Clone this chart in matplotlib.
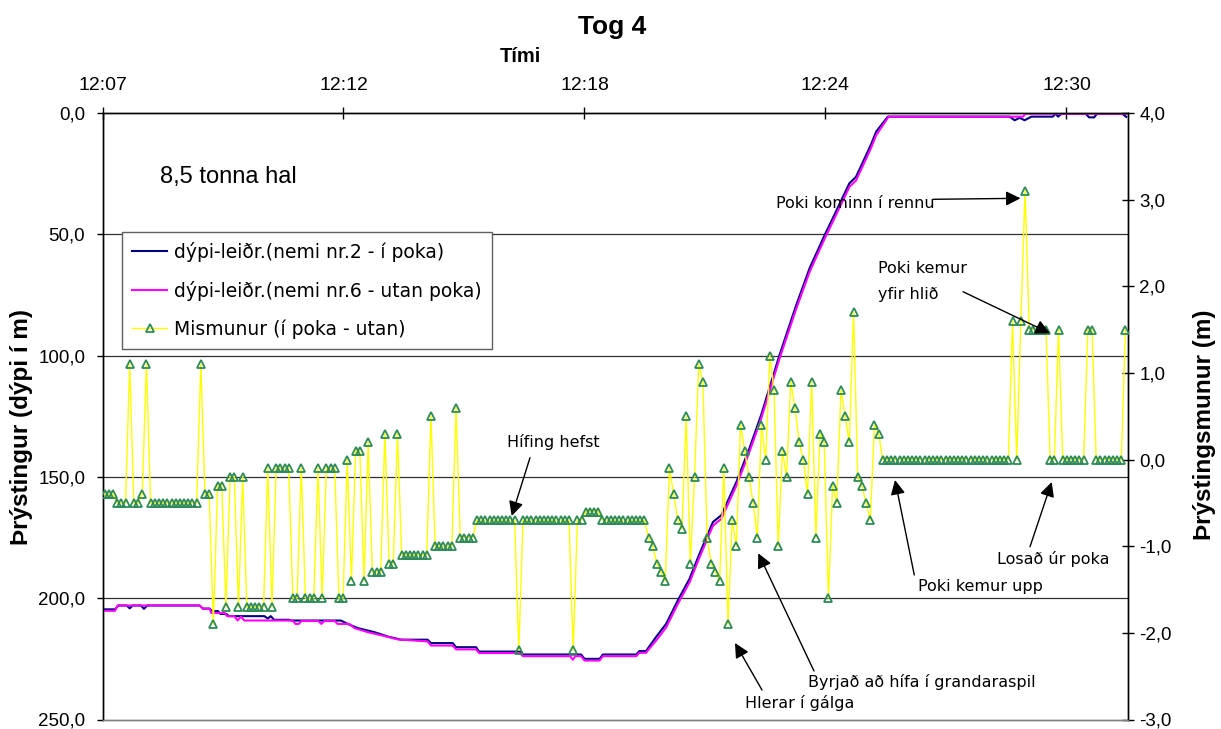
import matplotlib
matplotlib.use("Agg")
import matplotlib.pyplot as plt
import numpy as np

# ---------------- data ----------------
# time axis: minutes after 12:07:00
tick_minutes = [0.0, 5.76, 11.52, 17.28, 23.04]
sample_start = 0.05      # first sample (min)
sample_step = 0.1        # 6 s sampling

# depth sensor 2 (in bag) - vertices (minutes, depth m)
nemi2_t = [0.00, 0.30, 0.38, 0.58, 0.65, 0.72, 0.92, 0.99, 1.07, 2.32, 2.40, 2.56,
           2.62, 2.76, 2.82, 2.96, 3.02, 3.87, 3.95, 4.02, 4.10, 4.45, 4.51, 5.70,
           5.86, 6.10, 6.50, 6.82, 7.14, 7.77, 7.85, 8.37, 8.45, 8.93, 9.00, 9.97,
           10.05, 11.44, 11.52, 11.88, 11.96, 12.76, 12.83, 12.99, 13.23, 13.47,
           13.75, 14.03, 14.27, 14.59, 14.79, 15.15, 15.46, 15.74, 16.18, 16.58,
           16.90, 17.26, 17.45, 17.85, 18.01, 18.37, 18.49, 18.77, 21.68, 21.80,
           21.92, 22.04, 22.20, 22.71, 22.78, 22.84, 22.92, 23.50, 23.58, 23.70,
           23.77, 24.37, 24.47]
nemi2_d = [204.6, 204.6, 203.0, 203.0, 204.2, 203.0, 203.0, 204.4, 203.0, 203.0, 204.3, 204.3,
           205.3, 205.3, 206.5, 206.5, 207.4, 207.4, 208.4, 207.4, 208.9, 208.9, 209.2, 209.2,
           210.6, 212.3, 214.0, 215.8, 217.1, 217.1, 218.5, 218.5, 220.2, 220.2, 222.0, 222.0,
           223.2, 223.2, 225.0, 225.0, 223.2, 223.2, 221.8, 221.8, 216.0, 210.6,
           200.9, 192.0, 181.6, 168.6, 165.8, 152.1, 138.3, 124.6, 99.8, 79.2,
           64.0, 50.3, 43.5, 29.0, 26.3, 12.9, 7.7, 1.5, 1.5, 3.0,
           2.0, 3.0, 1.5, 1.5, 0.3, 1.5, 0.3, 0.3, 1.8, 1.8,
           0.3, 0.3, 1.6]

# depth sensor 6 (outside bag) - vertices (minutes, depth m)
nemi6_t = [0.00, 0.30, 0.36, 2.32, 2.40, 2.56, 2.60, 2.92, 2.98, 3.15, 3.23, 3.31,
           3.39, 4.55, 4.61, 4.69, 4.75, 5.16, 5.23, 5.30, 5.55, 5.62, 5.90, 6.02,
           6.34, 6.74, 7.06, 7.77, 7.85, 8.37, 8.45, 8.93, 9.00, 9.97, 10.05, 11.18,
           11.24, 11.30, 11.44, 11.52, 11.88, 11.96, 12.76, 12.83, 12.99, 13.23,
           13.47, 13.75, 14.03, 14.27, 14.59, 14.79, 15.15, 15.46, 15.74, 16.18,
           16.58, 16.90, 17.26, 17.45, 17.85, 18.01, 18.37, 18.49, 18.79, 22.00,
           22.06, 24.47]
nemi6_d = [205.2, 205.2, 203.0, 203.0, 204.3, 204.3, 206.1, 206.1, 207.4, 207.4, 209.2, 207.6,
           209.2, 209.2, 210.6, 210.6, 209.4, 209.4, 210.6, 209.4, 209.4, 210.6, 210.6, 212.3,
           214.0, 215.6, 217.0, 217.8, 219.5, 219.5, 221.1, 221.1, 222.6, 222.6, 223.9, 223.9,
           225.4, 223.9, 223.9, 225.7, 225.7, 223.9, 223.9, 222.5, 222.5, 217.5,
           212.1, 202.4, 193.5, 183.1, 170.1, 167.3, 153.6, 139.8, 126.1, 101.3,
           80.7, 65.5, 51.8, 45.0, 30.5, 27.8, 14.4, 9.2, 1.5, 1.5,
           0.3, 0.3]

# difference (in bag - outside), one value per 6 s sample
mismunur = [
    -0.4, -0.4, -0.4, -0.5, -0.5, -0.5, 1.1, -0.5, -0.5, -0.4, 1.1,
    -0.5, -0.5, -0.5, -0.5, -0.5, -0.5, -0.5, -0.5, -0.5, -0.5, -0.5, -0.5,
    1.1, -0.4, -0.4, -1.9, -0.3, -0.3, -1.7, -0.2, -0.2, -1.7, -0.2,
    -1.7, -1.7, -1.7, -1.7, -1.7, -0.1, -1.7, -0.1, -0.1, -0.1,
    -0.1, -1.6, -1.6, -0.1, -1.6, -1.6, -1.6, -0.1, -1.6, -0.1, -0.1, -0.1, -1.6, -1.6,
    0.0, -1.4, 0.1, 0.1, -1.4, 0.2, -1.3, -1.3, -1.3, 0.3, -1.2, -1.2, 0.3,
    -1.1, -1.1, -1.1, -1.1, -1.1, -1.1, -1.1, 0.5,
    -1.0, -1.0, -1.0, -1.0, -1.0, 0.6,
    -0.9, -0.9, -0.9, -0.9,
    -0.7, -0.7, -0.7, -0.7, -0.7, -0.7, -0.7, -0.7, -0.7, -0.7, -2.2,
    -0.7, -0.7, -0.7, -0.7, -0.7, -0.7, -0.7, -0.7, -0.7, -0.7, -0.7, -0.7, -2.2,
    -0.7, -0.7, -0.6, -0.6, -0.6, -0.6,
    -0.7, -0.7, -0.7, -0.7, -0.7, -0.7, -0.7, -0.7, -0.7, -0.7, -0.7,
    -0.9, -1.0, -1.2, -1.3, -1.4, -0.1, -0.4, -0.7, -0.8, 0.5, -1.2, -0.2,
    1.1, 0.9, -0.9, -1.2, -1.3, -1.4, -0.1, -1.9, -0.7, -1.0, 0.4, 0.1,
    -0.2, -0.5, -0.9, 0.4, 0.0, 1.2, 0.8, -1.0, 0.1, -0.2, 0.9, 0.6,
    0.2, 0.0, -0.4, 0.9, -0.9, 0.3, 0.2, -1.6, -0.3, -0.5, 0.8, 0.5,
    0.2, 1.7, -0.2, -0.3, -0.5, -0.7, 0.4, 0.3,
    0.0, 0.0, 0.0, 0.0, 0.0, 0.0, 0.0, 0.0, 0.0, 0.0, 0.0, 0.0, 0.0, 0.0, 0.0, 0.0,
    0.0, 0.0, 0.0, 0.0, 0.0, 0.0, 0.0, 0.0, 0.0, 0.0, 0.0, 0.0, 0.0, 0.0, 0.0,
    1.6, 0.0, 1.6, 3.1, 1.5, 1.5, 1.5, 1.5, 1.5, 0.0, 0.0, 1.5,
    0.0, 0.0, 0.0, 0.0, 0.0, 0.0, 1.5, 1.5,
    0.0, 0.0, 0.0, 0.0, 0.0, 0.0, 0.0, 1.5,
]

depth_ticks = [0, 50, 100, 150, 200, 250]
diff_ticks = [-3, -2, -1, 0, 1, 2, 3, 4]

labels = ["dýpi-leiðr.(nemi nr.2 - í poka)",
          "dýpi-leiðr.(nemi nr.6 - utan poka)",
          "Mismunur (í poka - utan)"]

# ---------------- figure ----------------
W, H = 1221, 729
fig = plt.figure(figsize=(W / 100, H / 100), dpi=100)
L, R, T, B = 102.5, 1127.5, 113.0, 719.5
ax = fig.add_axes([L / W, 1 - B / H, (R - L) / W, (B - T) / H])
ax2 = ax.twinx()

arial = "Liberation Sans"
comic = "DejaVu Sans"

def P(x, y):
    """image pixel -> axes fraction"""
    return ((x - L) / (R - L), 1 - (y - T) / (B - T))

sample_t = [sample_start + i * sample_step for i in range(len(mismunur))]

l1, = ax.plot(nemi2_t, nemi2_d, color="#000080", lw=1.5, zorder=3)
l2, = ax.plot(nemi6_t, nemi6_d, color="#FF00FF", lw=1.5, zorder=4)
l3, = ax2.plot(sample_t, mismunur, color="#FFFF00", lw=1.0,
               marker="^", ms=6.3, mfc="none", mec="#2E8B57", mew=1.3, zorder=5)

ax.set_xlim(0, (R - L) / 41.84)
ax.set_ylim(250, 0)
ax2.set_ylim(-3, 4)

# x ticks on top
ax.xaxis.tick_top()
ax.set_xticks(tick_minutes)
def hhmm(m):
    tot = 12 * 60 + 7 + m
    return f"{int(tot // 60)}:{int(tot % 60):02d}"
ax.set_xticklabels([hhmm(m) for m in tick_minutes], fontfamily=arial, fontsize=14)
ax.tick_params(axis="x", direction="inout", length=9, width=1, pad=9, colors="black")

ax.set_yticks(depth_ticks)
ax.set_yticklabels([f"{v:.1f}".replace(".", ",") for v in depth_ticks],
                   fontfamily=arial, fontsize=13.5)
ax.tick_params(axis="y", direction="out", length=4.5, width=1, pad=8)

ax2.set_yticks(diff_ticks)
ax2.set_yticklabels([f"{v:.1f}".replace(".", ",") for v in diff_ticks],
                    fontfamily=arial, fontsize=13.5)
ax2.tick_params(axis="y", direction="inout", length=9, width=1, pad=4)

for v in depth_ticks[1:-1]:
    ax.axhline(v, color="#303030", lw=0.9, zorder=1)

for a in (ax, ax2):
    a.spines["top"].set_color("black")
    a.spines["left"].set_color("black")
    a.spines["right"].set_color("black")
    a.spines["bottom"].set_color("#808080")
    for s in a.spines.values():
        s.set_linewidth(1.0)
ax.patch.set_visible(False)

# titles / labels
fig.text(612 / W, 1 - 27 / H, "Tog 4", fontfamily=arial, fontweight="bold",
         fontsize=19, ha="center", va="center")
fig.text(520 / W, 1 - 57 / H, "Tími", fontfamily=arial, fontweight="bold",
         fontsize=14.5, ha="center", va="center")
fig.text(22 / W, 1 - 427 / H, "Þrýstingur (dýpi í m)", fontfamily=arial,
         fontweight="bold", fontsize=17.5, rotation=90, ha="center", va="center")
fig.text(1205 / W, 1 - 425 / H, "Þrýstingsmunur (m)", fontfamily=arial,
         fontweight="bold", fontsize=17.5, rotation=90, ha="center", va="center")

# legend
leg = ax2.legend([l1, l2, l3], labels, loc="upper left",
                 bbox_to_anchor=P(121.7, 231.7), bbox_transform=ax2.transAxes,
                 borderaxespad=0, frameon=True, fancybox=False, framealpha=1,
                 edgecolor="#606060", prop={"family": comic, "size": 13.5},
                 handlelength=1.87, handletextpad=0.36, labelspacing=1.0,
                 borderpad=0.55)
leg.get_frame().set_linewidth(1.0)
leg.set_zorder(10)

# annotations
fig_txt = dict(fontfamily=comic, fontsize=11.5, va="center", ha="left",
               transform=ax2.transAxes, zorder=11)
ax2.text(*P(160, 176.7), "8,5 tonna hal", fontfamily=arial, fontsize=17,
         va="center", ha="left", transform=ax2.transAxes)

notes = [
    ("Hífing hefst", (507, 442), (530, 457.7), (511.7, 516)),
    ("Poki kominn í rennu", (776, 203.3), (933, 199.3), (1020.5, 198.3)),
    ("Poki kemur upp", (918, 587), (914.3, 575), (895, 480)),
    ("Losað úr poka", (997, 559), (1030, 546.7), (1051.7, 482)),
    ("Byrjað að hífa í grandaraspil", (808, 682), (814, 671), (758.3, 553.3)),
    ("Hlerar í gálga", (745, 703), (762, 690), (735, 643)),
]
arrow = dict(arrowstyle="-|>", color="black", lw=1.0, mutation_scale=22,
             shrinkA=0, shrinkB=0)
for txt, tp, tail, head in notes:
    ax2.text(*P(*tp), txt, **fig_txt)
    ax2.annotate("", xy=P(*head), xytext=P(*tail), xycoords="axes fraction",
                 textcoords="axes fraction", arrowprops=arrow, zorder=11)

ax2.text(*P(878.3, 268.3), "Poki kemur", **fig_txt)
ax2.text(*P(878.3, 295), "yfir hlið", **fig_txt)
ax2.annotate("", xy=P(1050, 333.3), xytext=P(963, 291.7), xycoords="axes fraction",
             textcoords="axes fraction", arrowprops=arrow, zorder=11)

fig.savefig("out.png", dpi=100)
